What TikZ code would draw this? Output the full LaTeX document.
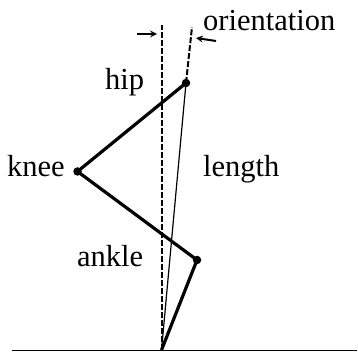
\documentclass[tikz,border=0pt]{standalone}
\usepackage{fontspec}
\setmainfont{Liberation Serif}
\begin{document}
\begin{tikzpicture}[x=1pt,y=-1pt,
  lbl/.style={inner sep=0pt,anchor=base west,font=\fontsize{30.5}{31}\selectfont},
  joint/.style={circle,fill=black,inner sep=0pt,minimum size=8.5pt},
  limb/.style={line width=3.2pt},
  guide/.style={line width=2pt,dash pattern=on 6pt off 2pt},
  ptr/.style={line width=2pt,-stealth}]
\useasboundingbox (0,0) rectangle (358,352);
\coordinate (foot) at (161.5,350);
\coordinate (gl) at (12,350.5);
\coordinate (gr) at (357,350.5);
\coordinate (vtop) at (161.5,25);
\coordinate (stop) at (192,27);
\coordinate (al) at (137,34);
\coordinate (ar) at (157,34);
\coordinate (bl) at (216,41);
\coordinate (br) at (196,38);
\node[joint] (hip) at (186,83) {};
\node[joint] (knee) at (77.5,171.5) {};
\node[joint] (ankle) at (197,260) {};
\draw[line width=1.2pt] (gl) -- (gr);
\draw[guide] (foot) -- (vtop);
\draw[guide] (hip.center) -- (stop);
\draw[line width=1.2pt] (foot) -- (hip.center);
\draw[limb] (hip.center) -- (knee.center) -- (ankle.center) -- (foot);
\draw[ptr] (al) -- (ar);
\draw[ptr] (bl) -- (br);
\node[lbl] (o) at (203,31) {orientation};
\node[lbl] (h) at (105,90) {hip};
\node[lbl] (k) at (7,177) {knee};
\node[lbl] (l) at (203,177) {length};
\node[lbl] (a) at (77,266) {ankle};
\end{tikzpicture}
\end{document}
